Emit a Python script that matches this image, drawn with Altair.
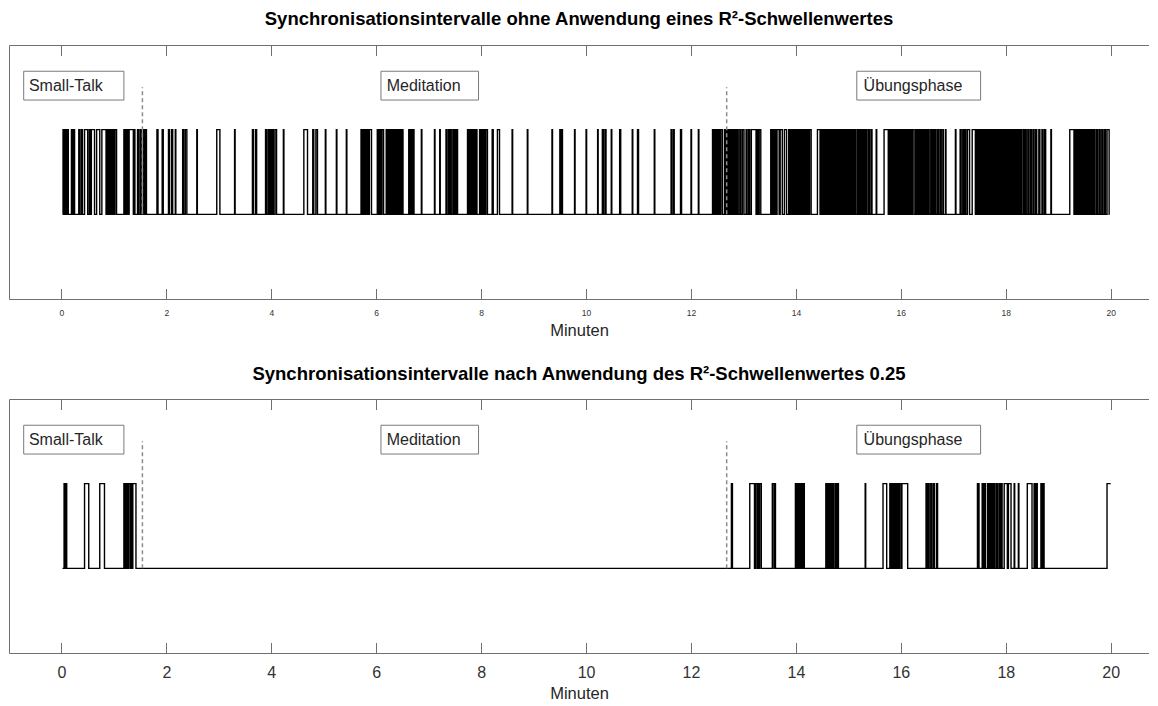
import altair as alt
import pandas as pd

# ---------------- data (minutes) ----------------
panel_titles = [
    "Synchronisationsintervalle ohne Anwendung eines R²-Schwellenwertes",
    "Synchronisationsintervalle nach Anwendung des R²-Schwellenwertes 0.25",
]
tick_values = [0, 2, 4, 6, 8, 10, 12, 14, 16, 18, 20]
phase_names = ["Small-Talk", "Meditation", "Übungsphase"]
phase_box_start = [-0.72, 6.09, 15.16]
phase_box_end = [1.19, 7.95, 17.52]
phase_text_x = [-0.62, 6.20, 15.29]
phase_boundaries = [1.543, 12.68]

# synchronisation intervals (rise, fall) without threshold
top_pulses = [
    (0.03, 0.05), (0.07, 0.09), (0.11, 0.13),
    (0.19, 0.21), (0.23, 0.25),
    (0.33, 0.35), (0.38, 0.40),
    (0.44, 0.50),
    (0.53, 0.55), (0.57, 0.63),
    (0.67, 0.73),
    (0.77, 0.85), (0.87, 0.89), (0.90, 0.92), (0.93, 0.95), (0.96, 0.98), (0.99, 1.01), (1.02, 1.05),
    (1.19, 1.21), (1.23, 1.25), (1.26, 1.28), (1.29, 1.37), (1.38, 1.40),
    (1.45, 1.47), (1.50, 1.52), (1.56, 1.58), (1.60, 1.62),
    (1.82, 1.84), (1.92, 1.94),
    (2.04, 2.06), (2.10, 2.12), (2.17, 2.18),
    (2.31, 2.33), (2.36, 2.39),
    (2.58, 2.59),
    (2.96, 3.02),
    (3.30, 3.31),
    (3.64, 3.66), (3.70, 3.72),
    (3.89, 3.91), (3.94, 3.96), (3.98, 4.00), (4.02, 4.04), (4.07, 4.10),
    (4.23, 4.24),
    (4.62, 4.69),
    (4.79, 4.81), (4.85, 4.88),
    (5.03, 5.04), (5.24, 5.25), (5.43, 5.44),
    (5.71, 5.73), (5.75, 5.77), (5.79, 5.81), (5.83, 5.85), (5.87, 5.91),
    (6.02, 6.04), (6.05, 6.07), (6.08, 6.10), (6.11, 6.14),
    (6.19, 6.21), (6.22, 6.24), (6.25, 6.27), (6.28, 6.30), (6.31, 6.33), (6.34, 6.36),
    (6.37, 6.39), (6.40, 6.42), (6.43, 6.45), (6.46, 6.48), (6.49, 6.51),
    (6.62, 6.64), (6.66, 6.68), (6.70, 6.72),
    (6.86, 6.87), (7.11, 7.12), (7.21, 7.22),
    (7.33, 7.35), (7.38, 7.40), (7.41, 7.43),
    (7.46, 7.48), (7.50, 7.52), (7.53, 7.55),
    (7.74, 7.76), (7.78, 7.80), (7.82, 7.84), (7.86, 7.88), (7.90, 7.92),
    (7.97, 7.99), (8.01, 8.03), (8.05, 8.07), (8.09, 8.12),
    (8.21, 8.23), (8.31, 8.35),
    (8.59, 8.60), (8.88, 8.89), (9.35, 9.36),
    (9.50, 9.52), (9.53, 9.55),
    (9.78, 9.79), (10.00, 10.01), (10.22, 10.23),
    (10.31, 10.33), (10.36, 10.38),
    (10.48, 10.49), (10.64, 10.66), (10.88, 10.89), (10.98, 11.00), (11.30, 11.31),
    (11.62, 11.63), (11.66, 11.68), (11.80, 11.82), (12.00, 12.01), (12.14, 12.15),
    (12.41, 12.43), (12.45, 12.47), (12.49, 12.51), (12.53, 12.55), (12.57, 12.60),
    (12.64, 12.66), (12.68, 12.70), (12.72, 12.74),
    (12.76, 12.78), (12.80, 12.82), (12.84, 12.86), (12.88, 12.90), (12.93, 12.95), (12.98, 13.01),
    (13.05, 13.07), (13.10, 13.12),
    (13.15, 13.24), (13.26, 13.28), (13.30, 13.33),
    (13.52, 13.54), (13.56, 13.58), (13.60, 13.62), (13.64, 13.68),
    (13.70, 13.74), (13.78, 13.82),
    (13.86, 13.88), (13.90, 13.92), (13.94, 13.96), (13.98, 14.00), (14.02, 14.04),
    (14.06, 14.08), (14.10, 14.12), (14.14, 14.16), (14.18, 14.20), (14.22, 14.24), (14.26, 14.29),
    (14.41, 14.46), (14.48, 14.50), (14.52, 14.54), (14.56, 14.58), (14.60, 14.62),
    (14.64, 14.66), (14.68, 14.70), (14.72, 14.74), (14.76, 14.78), (14.80, 14.82),
    (14.84, 14.86), (14.88, 14.90),
    (14.92, 14.94), (14.96, 14.98), (15.00, 15.02), (15.04, 15.06), (15.08, 15.10),
    (15.12, 15.14), (15.17, 15.19), (15.21, 15.23), (15.25, 15.27), (15.29, 15.31),
    (15.33, 15.35), (15.38, 15.40), (15.43, 15.45),
    (15.53, 15.54),
    (15.68, 15.76), (15.78, 15.80), (15.82, 15.84), (15.86, 15.88), (15.90, 15.92),
    (15.94, 15.96), (15.98, 16.00), (16.02, 16.04), (16.06, 16.08), (16.10, 16.12),
    (16.14, 16.16), (16.18, 16.20), (16.22, 16.25),
    (16.28, 16.30), (16.32, 16.34), (16.36, 16.38), (16.40, 16.42), (16.44, 16.46),
    (16.48, 16.50), (16.52, 16.54), (16.57, 16.59), (16.61, 16.63), (16.65, 16.67),
    (16.70, 16.72), (16.75, 16.77), (16.80, 16.81), (16.85, 16.86),
    (17.04, 17.05),
    (17.13, 17.15), (17.18, 17.20), (17.22, 17.24), (17.27, 17.31),
    (17.36, 17.42), (17.44, 17.46), (17.48, 17.50), (17.52, 17.54), (17.56, 17.58),
    (17.60, 17.62), (17.64, 17.66), (17.68, 17.70), (17.72, 17.74), (17.76, 17.78),
    (17.80, 17.82), (17.84, 17.86), (17.88, 17.90), (17.92, 17.94), (17.96, 17.98), (18.00, 18.02),
    (18.04, 18.06), (18.08, 18.10), (18.12, 18.14), (18.16, 18.18), (18.20, 18.22),
    (18.24, 18.26), (18.28, 18.30), (18.33, 18.35), (18.37, 18.39), (18.42, 18.44),
    (18.47, 18.49), (18.52, 18.54), (18.57, 18.59), (18.63, 18.65), (18.69, 18.71), (18.74, 18.76),
    (18.86, 18.87),
    (19.22, 19.30), (19.32, 19.34), (19.36, 19.38), (19.40, 19.42), (19.44, 19.46),
    (19.48, 19.50), (19.52, 19.54), (19.56, 19.58), (19.60, 19.62), (19.64, 19.66),
    (19.68, 19.70), (19.73, 19.75), (19.78, 19.80), (19.83, 19.85), (19.88, 19.90), (19.93, 19.97),
]
top_start, top_end = 0.02, 19.98

# synchronisation intervals after R² threshold 0.25
bottom_pulses = [
    (0.05, 0.065), (0.08, 0.10),
    (0.44, 0.52),
    (0.73, 0.82),
    (1.19, 1.21), (1.22, 1.24), (1.25, 1.27), (1.28, 1.31), (1.33, 1.34), (1.36, 1.42),
    (12.77, 12.79),
    (13.12, 13.21), (13.23, 13.26), (13.28, 13.30), (13.31, 13.34),
    (13.55, 13.58), (13.60, 13.61),
    (13.99, 14.01), (14.02, 14.04), (14.05, 14.07), (14.08, 14.10), (14.11, 14.13), (14.14, 14.16),
    (14.57, 14.59), (14.60, 14.62), (14.63, 14.65), (14.66, 14.68), (14.70, 14.72), (14.75, 14.77), (14.79, 14.81),
    (15.32, 15.33),
    (15.66, 15.73),
    (15.79, 15.81), (15.83, 15.85), (15.86, 15.88), (15.89, 15.91), (15.93, 15.95), (15.97, 16.00),
    (16.02, 16.13),
    (16.48, 16.50), (16.52, 16.54), (16.57, 16.59), (16.62, 16.64), (16.68, 16.70),
    (17.46, 17.47), (17.48, 17.49),
    (17.55, 17.57), (17.59, 17.61),
    (17.65, 17.67), (17.69, 17.71), (17.73, 17.75), (17.77, 17.79), (17.82, 17.84),
    (17.87, 17.89), (17.91, 17.93), (17.97, 18.03), (18.05, 18.10),
    (18.16, 18.17), (18.24, 18.25),
    (18.41, 18.50),
    (18.54, 18.56), (18.58, 18.60),
    (18.67, 18.69), (18.71, 18.73),
]
bottom_start, bottom_last_rise, bottom_end = 0.02, 19.93, 20.0

# ---------------- layout / style ----------------
W, H = 1140, 254
XDOM = [-1, 20.73]
YDOM = [-1, 2]
FRAME = "#6f6f6f"
FONT = "Liberation Sans"


def signal_frame(pulses, start, end, last_rise=None):
    ts, vs = [start], [0]
    for s, e in pulses:
        ts += [s, e]
        vs += [1, 0]
    if last_rise is not None:
        ts += [last_rise, end]
        vs += [1, 1]
    else:
        ts.append(end)
        vs.append(0)
    return pd.DataFrame({"t": ts, "v": vs, "i": list(range(len(ts)))})


phase_df = pd.DataFrame({
    "name": phase_names,
    "x0": phase_box_start,
    "x1": phase_box_end,
    "tx": phase_text_x,
    "y0": [1.35] * 3,
    "y1": [1.69] * 3,
    "ty": [1.51] * 3,
})
bound_df = pd.DataFrame({"t": phase_boundaries, "y0": [0.0, 0.0], "y1": [1.5, 1.5]})


def panel(sig_df, title, tick_font, label_pad, title_pad, title_y):
    xs = alt.Scale(domain=XDOM, nice=False, zero=False)
    ys = alt.Scale(domain=YDOM, nice=False, zero=False)
    y_axis = alt.Axis(
        orient="left", labels=False, ticks=False, grid=False, title=None,
        domain=True, domainColor=FRAME, domainWidth=1,
    )

    line = alt.Chart(sig_df).mark_line(
        color="black", strokeWidth=1.4, interpolate="step-after"
    ).encode(
        x=alt.X("t:Q", scale=xs, axis=alt.Axis(
            orient="bottom", values=tick_values, format="d", title="Minuten",
            ticks=False, grid=True, gridDash=[10.5, 233], gridColor=FRAME, gridWidth=1,
            domainColor=FRAME, domainWidth=1,
            labelFontSize=tick_font, labelPadding=label_pad, labelColor="#333333",
            labelFlush=False, labelOverlap=False,
            titleFontSize=16.5, titleFontWeight="normal", titleColor="#262626",
            titlePadding=title_pad,
        )),
        y=alt.Y("v:Q", scale=ys, axis=y_axis),
        order="i:Q",
    )

    rules = alt.Chart(bound_df).mark_rule(
        color="#8c8c8c", strokeWidth=1.5, strokeDash=[4, 3]
    ).encode(
        x=alt.X("t:Q", scale=xs, axis=alt.Axis(
            orient="top", labels=False, ticks=False, grid=False, title=None,
            domain=True, domainColor=FRAME, domainWidth=1,
        )),
        y=alt.Y("y0:Q", scale=ys, axis=y_axis),
        y2="y1:Q",
    )

    boxes = alt.Chart(phase_df).mark_rect(
        fill="white", stroke="#7a7a7a", strokeWidth=1
    ).encode(
        x=alt.X("x0:Q", scale=xs, axis=None),
        x2="x1:Q",
        y=alt.Y("y0:Q", scale=ys, axis=y_axis),
        y2="y1:Q",
    )

    labels = alt.Chart(phase_df).mark_text(
        align="left", baseline="middle", fontSize=16, color="#262626"
    ).encode(
        x=alt.X("tx:Q", scale=xs, axis=None),
        y=alt.Y("ty:Q", scale=ys, axis=y_axis),
        text="name:N",
    )

    ttl = alt.Chart(pd.DataFrame({"title": [title]})).mark_text(
        align="center", baseline="middle", fontSize=18.5, fontWeight="bold", color="black"
    ).encode(
        x=alt.value(W / 2),
        y=alt.value(title_y),
        text="title:N",
    )

    return alt.layer(line, rules, boxes, labels, ttl).properties(width=W, height=H)


top = panel(signal_frame(top_pulses, top_start, top_end), panel_titles[0], 8.5, 9, 6, -26)
bottom = panel(signal_frame(bottom_pulses, bottom_start, bottom_end, bottom_last_rise),
               panel_titles[1], 16, 11, 5, -25)

chart = alt.vconcat(top, bottom, spacing=100, bounds="flush").properties(
    padding={"left": 1, "top": 2, "right": 0, "bottom": 0}
).configure(font=FONT).configure_view(strokeWidth=0)

chart.save("out.html", embed_options={"renderer": "svg", "actions": False})
